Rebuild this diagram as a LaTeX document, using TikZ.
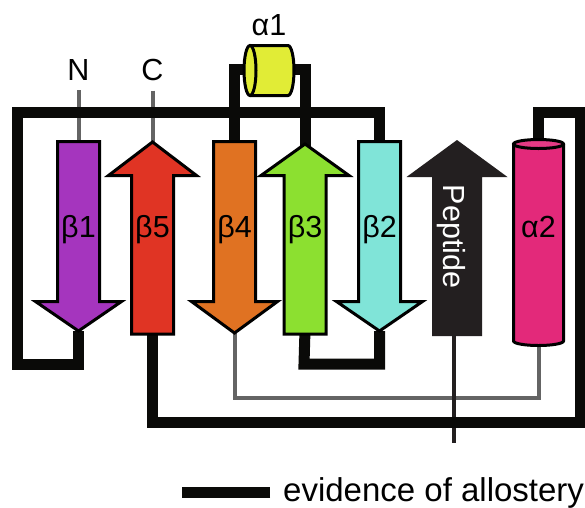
\documentclass[tikz,border=0pt]{standalone}
\usepackage{fontspec}
\setmainfont{Liberation Sans}
\usepackage{tikz}
\definecolor{betaone}{HTML}{A535BE}
\definecolor{betafive}{HTML}{E03424}
\definecolor{betafour}{HTML}{E07222}
\definecolor{betathree}{HTML}{8CE030}
\definecolor{betatwo}{HTML}{80E4D8}
\definecolor{alphaone}{HTML}{E1EC36}
\definecolor{alphatwo}{HTML}{E3297A}
\definecolor{alphatop}{HTML}{E53A85}
\definecolor{pepcol}{HTML}{231F20}
\definecolor{allocol}{HTML}{0A0A08}
\definecolor{linkcol}{HTML}{646464}
\newcommand{\labelsize}{\fontsize{30.5}{36}\selectfont}
\newcommand{\keysize}{\fontsize{33}{40}\selectfont}
\tikzset{strand/.style={draw=black,line width=3pt,line join=miter}}
\tikzset{helix/.style={draw=black,line width=3pt}}
\tikzset{allo/.style={draw=allocol,line width=11pt,line join=miter}}
\tikzset{link/.style={draw=linkcol,line width=4pt,line join=miter}}
\tikzset{lbl/.style={font=\labelsize,anchor=base,inner sep=10pt}}
\tikzset{pep/.style={font=\labelsize,text=white,rotate=-90,inner sep=0pt}}
\tikzset{keytext/.style={font=\keysize,anchor=base west,inner sep=0pt}}

\begin{document}
\begin{tikzpicture}[x=1pt,y=-1pt]
    \fill[white] (0,0) rectangle (585,507);
    \useasboundingbox (0,0) rectangle (585,507);
    % strand ends
    \foreach \x/\nm/\tip in {78.5/b1/331,234.5/b4/333,379.5/b2/331}{%
          \coordinate (\nm in) at (\x,150);
          \coordinate (\nm out) at (\x,\tip);
        }
    \foreach \x/\nm/\tip in {152.5/b5/142,305/b3/144}{%
          \coordinate (\nm in) at (\x,\tip+8);
          \coordinate (\nm out) at (\x,330);
        }
    \coordinate (a1west) at (250,69.5);
    \coordinate (a1east) at (288,69.5);
    \coordinate (a2top) at (538.5,150);
    \coordinate (a2bot) at (538.5,338);
    \coordinate (pepout) at (454,330);
    \coordinate (pepend) at (454,443);
    \node[lbl] (N) at (78.5,80) {N};
    \node[lbl] (C) at (152.5,80) {C};

    % connectors
    \draw[link] (N.south) -- (b1in);
    \draw[link] (C.south) -- (b5in);
    \draw[link] (b4out) -- ++(0,65) -| (a2bot);
    \draw[draw=pepcol,line width=4pt] (pepout) -- (pepend);
    \draw[allo] (b1out) |- (17,364) -- (17,112) -| (b2in);
    \draw[allo] (a1west) -| (b4in);
    \draw[allo] (a1east) -| (b3in);
    \draw[allo] (b3out) -- (304,364) -| (b2out);
    \draw[allo] (a2top) |- (580,112) -- (580,422.5) -| (b5out);

    % strands
    \foreach \x/\col/\h/\tip in {78.5/betaone/β1/331,234.5/betafour/β4/333,379.5/betatwo/β2/331}{%
          \draw[strand,fill=\col] (\x-21,141.5) -- (\x+21,141.5) -- (\x+21,301.5)
                -- (\x+43,301.5) -- (\x,\tip) -- (\x-43,301.5) -- (\x-21,301.5) -- cycle;
          \node[lbl] at (\x,237.5) {\h};
        }
    \foreach \x/\col/\h/\tip in {152.5/betafive/β5/142,305/betathree/β3/144}{%
          \draw[strand,fill=\col] (\x-21,334) -- (\x-21,175.5) -- (\x-44,175.5)
                -- (\x,\tip) -- (\x+44,175.5) -- (\x+21,175.5) -- (\x+21,334) -- cycle;
          \node[lbl] at (\x,237.5) {\h};
        }
    \fill[pepcol] (432,336) -- (432,177) -- (406.5,177) -- (457,140)
          -- (507.5,177) -- (482,177) -- (482,336) -- cycle;

    % helices
    \filldraw[helix,fill=alphaone] (250,45.5) -- (288,45.5)
          arc[start angle=90,end angle=-90,x radius=6pt,y radius=25pt] -- (250,95.5);
    \filldraw[helix,fill=alphaone] (250,70.5) ellipse [x radius=6pt,y radius=25pt];
    \filldraw[helix,fill=alphatwo] (513.5,144) -- (513.5,341)
          arc[start angle=180,end angle=360,x radius=25pt,y radius=4.5pt] -- (563.5,144);
    \filldraw[helix,fill=alphatop] (538.5,144) ellipse [x radius=25pt,y radius=4.5pt];

    % Labels
    \node[lbl] (a1label) at (269,35) {α1};
    \node[lbl] (a2label) at (538.5,237.5) {α2};
    \node[pep] (peplabel) at (451,236.5) {Peptide};
    \node[keytext] (key) at (283,501) {evidence of allostery};
    \draw[allo] ([xshift=-13pt]key.west) -- ++(-88,0);
\end{tikzpicture}
\end{document}
